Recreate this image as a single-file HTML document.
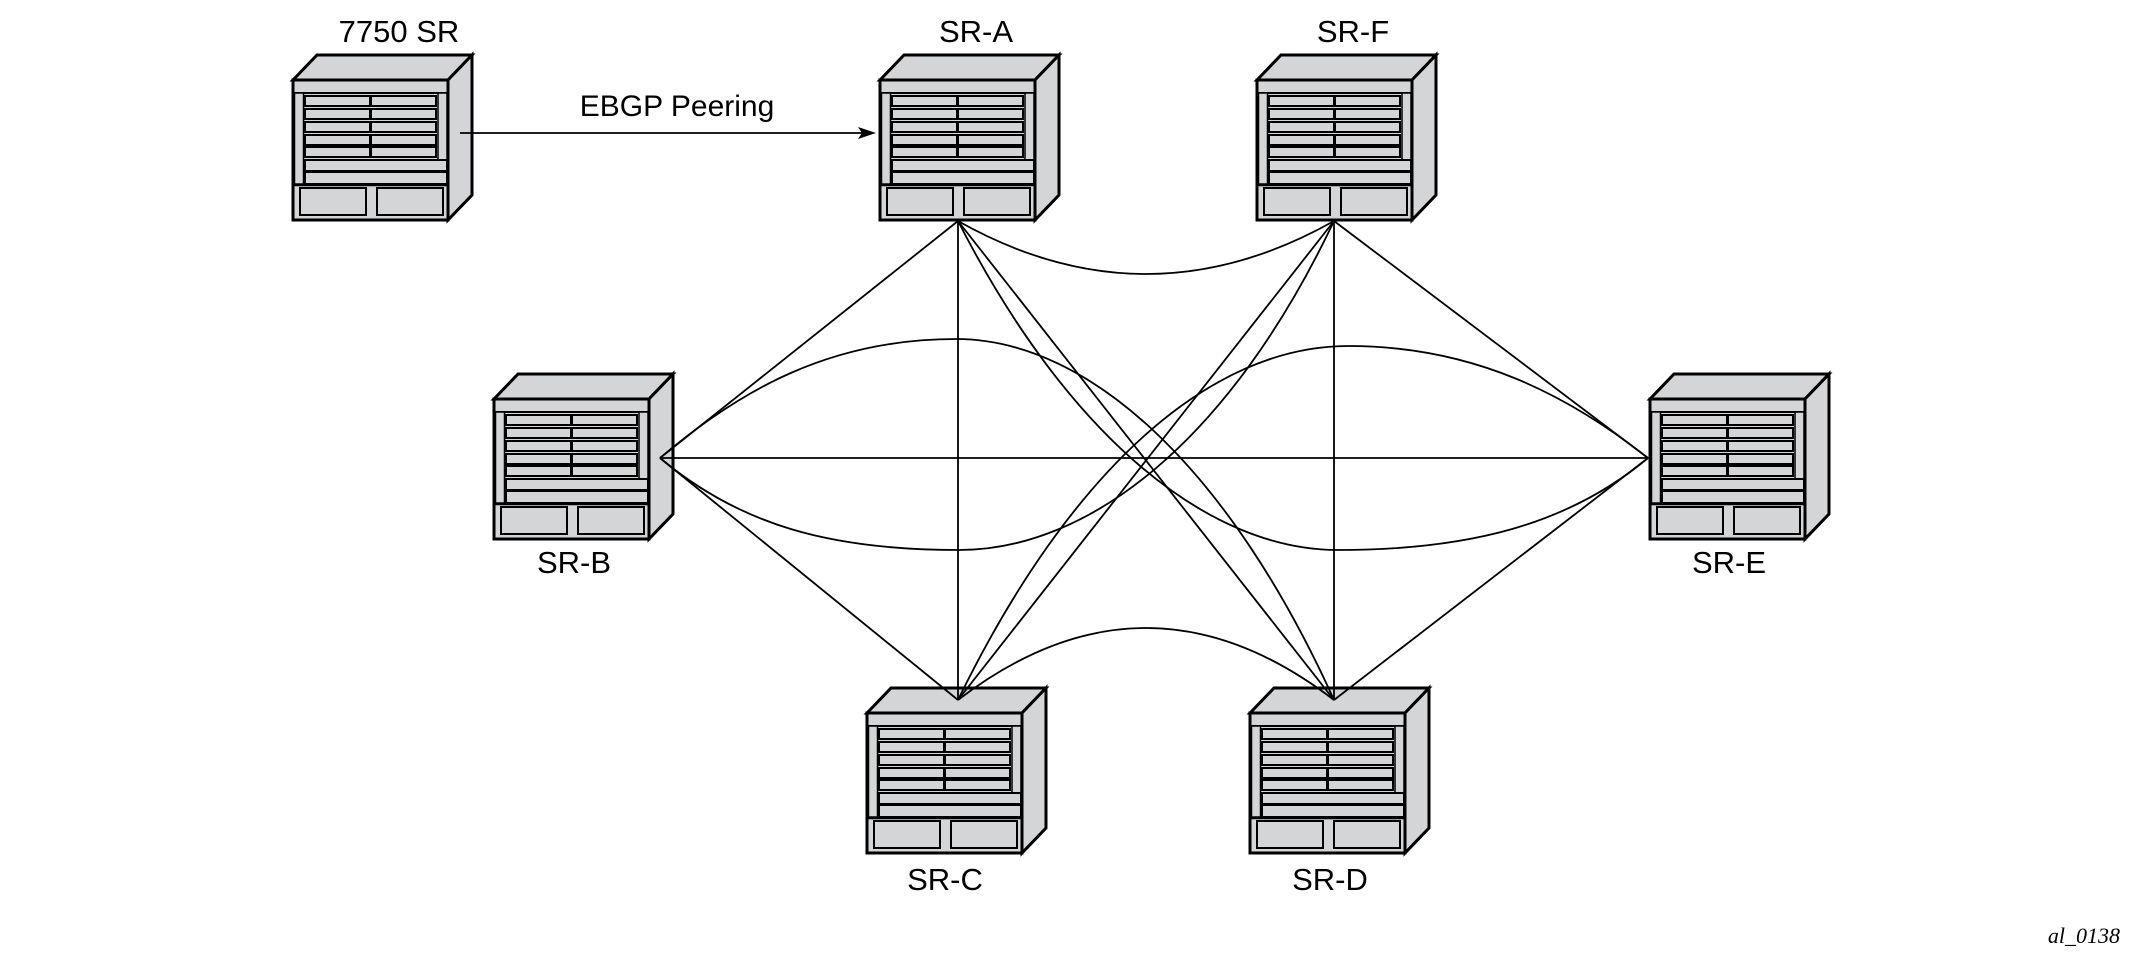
<!DOCTYPE html>
<html><head><style>html,body{margin:0;padding:0;background:#fff}svg{display:block}</style></head>
<body>
<svg width="2135" height="968" viewBox="0 0 2135 968" xmlns="http://www.w3.org/2000/svg">
<defs>
<g id="r" stroke="#000" stroke-linejoin="miter">
  <polygon points="0,0 24,-25 179,-25 155,0" fill="#d4d5d7" stroke-width="3"/>
  <polygon points="155,0 179,-25 179,115 155,140" fill="#d4d5d7" stroke-width="3"/>
  <rect x="0" y="0" width="155" height="140" fill="#d4d5d7" stroke-width="3"/>
  <line x1="0" y1="13" x2="155" y2="13" stroke-width="2"/>
  <rect x="1.5" y="13" width="9" height="91" fill="#d4d5d7" stroke-width="1.5"/>
  <rect x="145" y="13" width="9" height="91" fill="#d4d5d7" stroke-width="1.5"/>
  <g fill="#d4d5d7" stroke-width="2">
    <rect x="12" y="16" width="65" height="10"/><rect x="78" y="16" width="65" height="10"/>
    <rect x="12" y="29" width="65" height="10"/><rect x="78" y="29" width="65" height="10"/>
    <rect x="12" y="42" width="65" height="10"/><rect x="78" y="42" width="65" height="10"/>
    <rect x="12" y="55" width="65" height="10"/><rect x="78" y="55" width="65" height="10"/>
    <rect x="12" y="67" width="65" height="10"/><rect x="78" y="67" width="65" height="10"/>
    <rect x="12" y="80" width="142" height="11"/>
    <rect x="12" y="92" width="142" height="12"/>
  </g>
  <line x1="0" y1="105" x2="155" y2="105" stroke-width="2.5"/>
  <rect x="7" y="108" width="66" height="27" fill="#d4d5d7" stroke-width="2"/>
  <rect x="84" y="108" width="66" height="27" fill="#d4d5d7" stroke-width="2"/>
</g>
</defs>
<use href="#r" x="293" y="80"/>
<use href="#r" x="880" y="80"/>
<use href="#r" x="1257" y="80"/>
<use href="#r" x="494" y="399"/>
<use href="#r" x="1650" y="399"/>
<use href="#r" x="867" y="713"/>
<use href="#r" x="1250" y="713"/>
<g fill="none" stroke="#000" stroke-width="1.8">
  <line x1="958" y1="221" x2="660" y2="458"/>
  <line x1="958" y1="221" x2="958" y2="700"/>
  <line x1="958" y1="221" x2="1334" y2="700"/>
  <line x1="1334" y1="221" x2="1648" y2="458"/>
  <line x1="1334" y1="221" x2="1334" y2="700"/>
  <line x1="1334" y1="221" x2="958" y2="700"/>
  <line x1="660" y1="458" x2="1648" y2="458"/>
  <line x1="660" y1="458" x2="958" y2="700"/>
  <line x1="1648" y1="458" x2="1334" y2="700"/>
  <path d="M958,221 Q1146,327 1334,221"/>
  <path d="M958,700 Q1146,556 1334,700"/>
  <path d="M660,458 C740,390 830,339 956,339 C1090,339 1230,470 1334,700"/>
  <path d="M1648,458 C1568,395 1474,346 1348,346 C1210,346 1070,470 958,700"/>
  <path d="M660,458 C740,525 830,550 959,550 C1090,550 1230,440 1334,221"/>
  <path d="M1648,458 C1568,525 1468,550 1338,550 C1210,550 1070,440 958,221"/>
  <line x1="460" y1="133" x2="862" y2="133"/>
</g>
<polygon points="876,133 858,127 862,133 858,139" fill="#000"/>
<g font-family="Liberation Sans, Arial, sans-serif" font-size="31" text-anchor="middle" fill="#000">
  <text x="399" y="42">7750 SR</text>
  <text x="976" y="42">SR-A</text>
  <text x="1353" y="42">SR-F</text>
  <text x="574" y="573">SR-B</text>
  <text x="1729" y="573">SR-E</text>
  <text x="945" y="890">SR-C</text>
  <text x="1330" y="890">SR-D</text>
  <text x="677" y="116" font-size="30">EBGP Peering</text>
</g>
<text x="2120" y="943" text-anchor="end" font-family="Liberation Serif, serif" font-style="italic" font-size="22">al_0138</text>
</svg>
</body></html>
